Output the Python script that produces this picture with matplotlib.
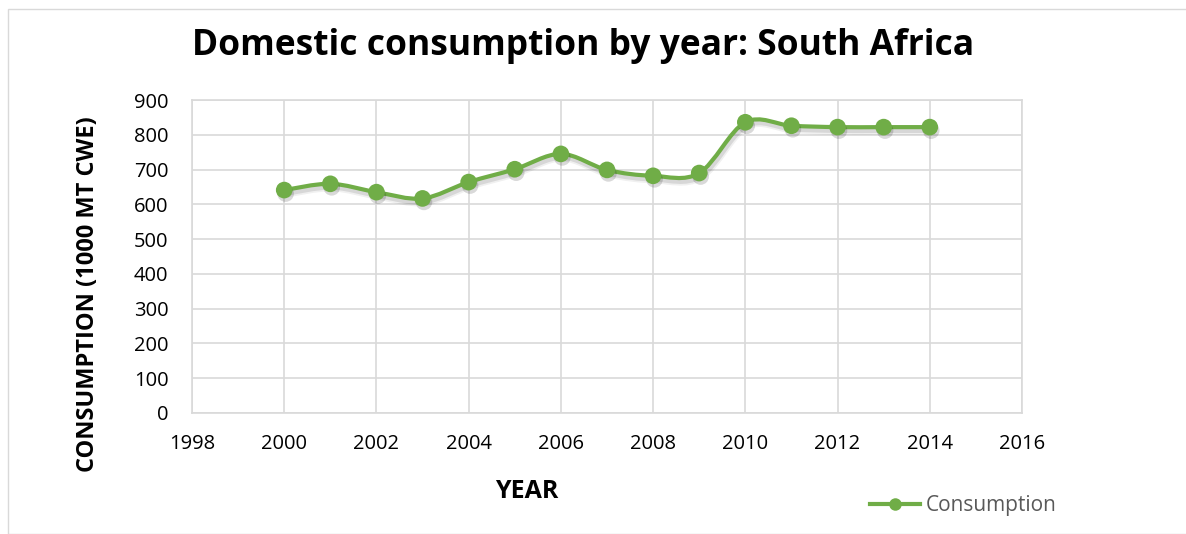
import matplotlib

matplotlib.use("Agg")
import matplotlib.pyplot as plt
import matplotlib.patheffects as pe
from matplotlib.lines import Line2D
from matplotlib.patches import PathPatch, Rectangle
from matplotlib.path import Path

years = [2000, 2001, 2002, 2003, 2004, 2005, 2006, 2007,
         2008, 2009, 2010, 2011, 2012, 2013, 2014]
consumption = [641, 659, 635, 617, 664, 701, 745, 699,
               682, 690, 836, 826, 822, 822, 822]

x_ticks = list(range(1998, 2017, 2))
y_ticks = list(range(0, 901, 100))

GREEN = "#70AD47"
GRID = "#D9D9D9"
FONT = "Open Sans"

W, H = 1186, 534


def smooth_path(xs, ys, tension=1 / 6):
    # cubic bezier through every point, control points from the neighbours
    verts = [(xs[0], ys[0])]
    codes = [Path.MOVETO]
    n = len(xs)
    for i in range(n - 1):
        x0, y0 = (xs[i - 1], ys[i - 1]) if i > 0 else (xs[i], ys[i])
        x1, y1 = xs[i], ys[i]
        x2, y2 = xs[i + 1], ys[i + 1]
        x3, y3 = (xs[i + 2], ys[i + 2]) if i + 2 < n else (x2, y2)
        c1 = (x1 + (x2 - x0) * tension, y1 + (y2 - y0) * tension)
        c2 = (x2 - (x3 - x1) * tension, y2 - (y3 - y1) * tension)
        verts += [c1, c2, (x2, y2)]
        codes += [Path.CURVE4] * 3
    return Path(verts, codes)


fig = plt.figure(figsize=(W / 100, H / 100), dpi=100)
ax = fig.add_axes([192 / W, 1 - 413 / H, (1022 - 192) / W, (413 - 100) / H])

# chart frame
fig.patches.append(Rectangle((8 / W, 0), 1.0, 1 - 9 / H, transform=fig.transFigure,
                             fill=False, edgecolor=GRID, linewidth=1.0, zorder=0))

# soft drop shadow: a few faint offset copies
line_shadow = [pe.SimpleLineShadow(offset=(1, -2.5), shadow_color="black",
                                   alpha=0.06, linewidth=6),
               pe.SimpleLineShadow(offset=(1, -2.5), shadow_color="black",
                                   alpha=0.10, linewidth=3.5),
               pe.Normal()]
dot_shadow = [pe.SimplePatchShadow(offset=(1, -2.5), shadow_rgbFace="black",
                                   alpha=0.15),
              pe.Normal()]

curve = PathPatch(smooth_path(years, consumption), fill=False, edgecolor=GREEN,
                  linewidth=3.0, capstyle="round", joinstyle="round", zorder=3)
curve.set_path_effects(line_shadow)
ax.add_patch(curve)
ax.plot(years, consumption, linestyle="none", marker="o", markersize=12,
        markeredgewidth=0, color=GREEN, zorder=4, path_effects=dot_shadow)

ax.set_xlim(1998, 2016)
ax.set_ylim(0, 900)
ax.set_xticks(x_ticks)
ax.set_yticks(y_ticks)
ax.grid(True, color=GRID, linewidth=1.2)
ax.set_axisbelow(True)
for spine in ax.spines.values():
    spine.set_color(GRID)
    spine.set_linewidth(1.2)
ax.tick_params(length=0, labelsize=14.5, labelcolor="black")
ax.tick_params(axis="y", pad=17)
ax.tick_params(axis="x", pad=15)
for lbl in ax.get_xticklabels() + ax.get_yticklabels():
    lbl.set_fontfamily(FONT)

fig.text(583 / W, 1 - 46 / H, "Domestic consumption by year: South Africa",
         ha="center", va="center", fontsize=25.5, fontweight="bold", family=FONT)
fig.text(88 / W, 1 - 294 / H, "CONSUMPTION (1000 MT CWE)", rotation=90,
         ha="center", va="center", fontsize=17, fontweight="bold", family=FONT)
fig.text(527 / W, 1 - 491 / H, "YEAR", ha="center", va="center",
         fontsize=18, fontweight="bold", family=FONT)

handle = Line2D([], [], color=GREEN, linewidth=3.0, marker="o", markersize=9,
                markeredgewidth=0)
fig.legend([handle], ["Consumption"], loc="center left",
           bbox_to_anchor=(862 / W, 1 - 506 / H), frameon=False,
           handlelength=2.4, handletextpad=0.25, borderaxespad=0,
           prop={"family": FONT, "size": 15}, labelcolor="#595959")

fig.savefig("out.png", dpi=100)
